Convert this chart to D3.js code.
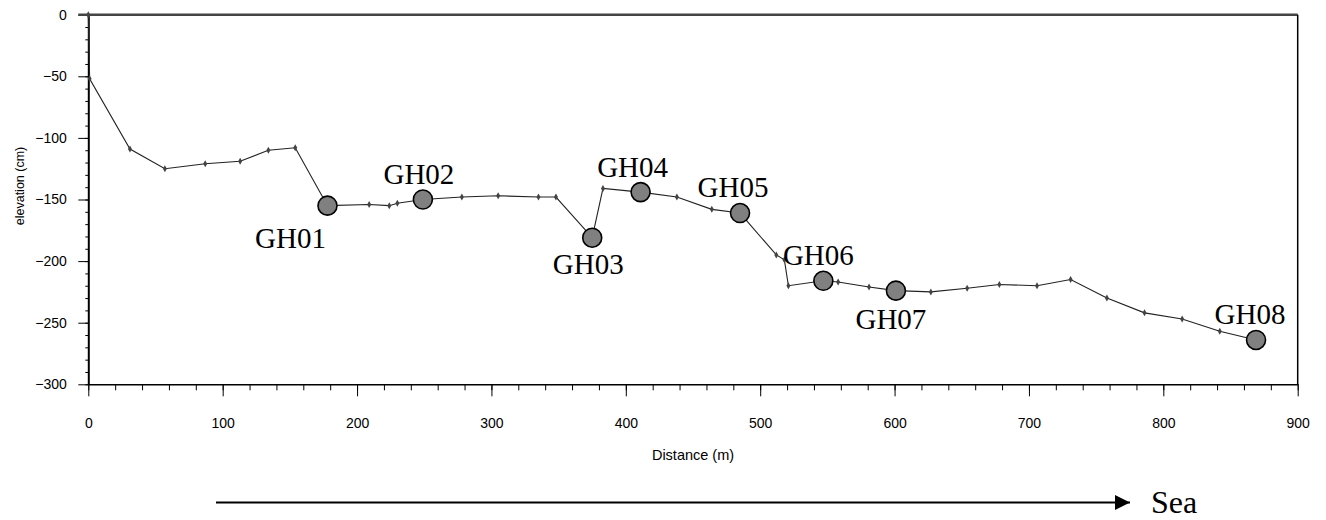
<!DOCTYPE html>
<html>
<head>
<meta charset="utf-8">
<script src="https://cdn.jsdelivr.net/npm/d3@7"></script>
<style>
  body { margin: 0; background: #fff; }
  svg { display: block; }
  .axis text { font-family: "Liberation Sans", Arial, sans-serif; font-size: 14px; fill: #000; }
  .axis path, .axis line { stroke: #000; }
  .site-label, .sea-label { font-family: "Liberation Serif", "Times New Roman", serif; fill: #000; }
</style>
</head>
<body>
<svg id="chart"></svg>
<script>
// profile survey points
const distance = [0, 1, 31, 57, 87, 113, 134, 154, 178, 209, 224, 230, 249, 278, 305, 335, 348, 375, 383, 411,
  438, 464, 485, 512, 518, 521, 547, 558, 581, 601, 627, 654, 678, 706, 731, 758, 786, 814, 842, 869];
const elevation = [0, -52, -109, -125, -121, -119, -110, -108, -155, -154, -155, -153, -150, -148, -147, -148, -148, -181, -141, -144,
  -148, -158, -161, -195, -199, -220, -216, -217, -221, -224, -225, -222, -219, -220, -215, -230, -242, -247, -257, -264];

// sampling sites
const siteNames = ['GH01', 'GH02', 'GH03', 'GH04', 'GH05', 'GH06', 'GH07', 'GH08'];
const siteDist = [178, 249, 375, 411, 485, 547, 601, 869];
const siteElev = [-155, -150, -181, -144, -161, -216, -224, -264];

const xTicks = [0, 100, 200, 300, 400, 500, 600, 700, 800, 900];
const yTicks = [0, -50, -100, -150, -200, -250, -300];

const W = 1326, H = 520;
const MARGIN = { top: 14.7, left: 88.3, right: 28.3, bottom: 135.7 };
const width = W - MARGIN.left - MARGIN.right;
const height = H - MARGIN.top - MARGIN.bottom;

// label placement beside each site circle (dx, dy in px)
const labelPos = {
  GH01: [-37, 42], GH02: [-4, -15], GH03: [-4, 36], GH04: [-8, -15],
  GH05: [-7, -16], GH06: [-5, -16], GH07: [-5, 38], GH08: [-6, -16]
};

const svg = d3.select('#chart').attr('width', W).attr('height', H);
const g = svg.append('g').attr('transform', `translate(${MARGIN.left},${MARGIN.top})`);

const x = d3.scaleLinear().domain([0, 900]).range([0, width]);
const y = d3.scaleLinear().domain([-300, 0]).range([height, 0]);

// minor ticks
g.append('g').attr('class', 'axis')
  .attr('transform', `translate(0,${height})`)
  .call(d3.axisBottom(x).tickValues(d3.range(0, 901, 20)).tickSize(6).tickFormat(''))
  .call(s => s.select('.domain').remove());
g.append('g').attr('class', 'axis')
  .call(d3.axisLeft(y).tickValues(d3.range(-300, 1, 10)).tickSize(3).tickFormat(''))
  .call(s => s.select('.domain').remove());

// major axes
g.append('g').attr('class', 'axis axis--x')
  .attr('transform', `translate(0,${height})`)
  .call(d3.axisBottom(x).tickValues(xTicks).tickSize(12).tickPadding(22).tickSizeOuter(0))
  .call(s => s.select('.domain').attr('stroke-width', 1.5));

g.append('g').attr('class', 'axis axis--y')
  .call(d3.axisLeft(y).tickValues(yTicks).tickSize(10).tickPadding(11.5).tickSizeOuter(0))
  .call(s => s.select('.domain').attr('stroke-width', 2));

// frame top + right
g.append('line').attr('x1', -10).attr('x2', width).attr('y1', 0).attr('y2', 0)
  .attr('stroke', '#444').attr('stroke-width', 2.5);
g.append('line').attr('x1', width).attr('x2', width).attr('y1', 0).attr('y2', height)
  .attr('stroke', '#000').attr('stroke-width', 1.5);

// axis titles
svg.append('text')
  .attr('transform', `translate(${MARGIN.left + width / 2},460)`)
  .attr('text-anchor', 'middle')
  .style('font-family', '"Liberation Sans", Arial, sans-serif')
  .style('font-size', '14.5px')
  .text('Distance (m)');

svg.append('text')
  .attr('transform', 'translate(24,186) rotate(-90)')
  .attr('text-anchor', 'middle')
  .style('font-family', '"Liberation Sans", Arial, sans-serif')
  .style('font-size', '12.5px')
  .text('elevation (cm)');

// profile line
const profile = distance.map((d, i) => ({ d, e: elevation[i] }));
const line = d3.line().x(p => x(p.d)).y(p => y(p.e));

g.append('path')
  .datum(profile)
  .attr('d', line)
  .attr('fill', 'none')
  .attr('stroke', '#222')
  .attr('stroke-width', 1.1);

g.selectAll('.pt')
  .data(profile)
  .join('path')
  .attr('class', 'pt')
  .attr('transform', p => `translate(${x(p.d)},${y(p.e)})`)
  .attr('d', d3.symbol(d3.symbolDiamond).size(14))
  .attr('fill', '#444');

// sampling sites
const sites = siteNames.map((n, i) => ({ n, d: siteDist[i], e: siteElev[i] }));

g.selectAll('.site')
  .data(sites)
  .join('circle')
  .attr('class', 'site')
  .attr('cx', s => x(s.d))
  .attr('cy', s => y(s.e))
  .attr('r', 9.5)
  .attr('fill', '#808080')
  .attr('stroke', '#000')
  .attr('stroke-width', 1.6);

g.selectAll('.site-label')
  .data(sites)
  .join('text')
  .attr('class', 'site-label')
  .attr('x', s => x(s.d) + labelPos[s.n][0])
  .attr('y', s => y(s.e) + labelPos[s.n][1])
  .attr('text-anchor', 'middle')
  .style('font-size', '29px')
  .text(s => s.n);

// direction arrow towards the sea
svg.append('defs').append('marker')
  .attr('id', 'head')
  .attr('viewBox', '0 0 10 10')
  .attr('refX', 10).attr('refY', 5)
  .attr('markerWidth', 15).attr('markerHeight', 15)
  .attr('markerUnits', 'userSpaceOnUse')
  .attr('orient', 'auto')
  .append('path').attr('d', 'M0,0L10,5L0,10Z').attr('fill', '#000');

svg.append('line')
  .attr('x1', 216).attr('x2', 1130)
  .attr('y1', 502.5).attr('y2', 502.5)
  .attr('stroke', '#000').attr('stroke-width', 2.2)
  .attr('marker-end', 'url(#head)');

svg.append('text')
  .attr('class', 'sea-label')
  .attr('x', 1151).attr('y', 513)
  .style('font-size', '32px')
  .text('Sea');
</script>
</body>
</html>
